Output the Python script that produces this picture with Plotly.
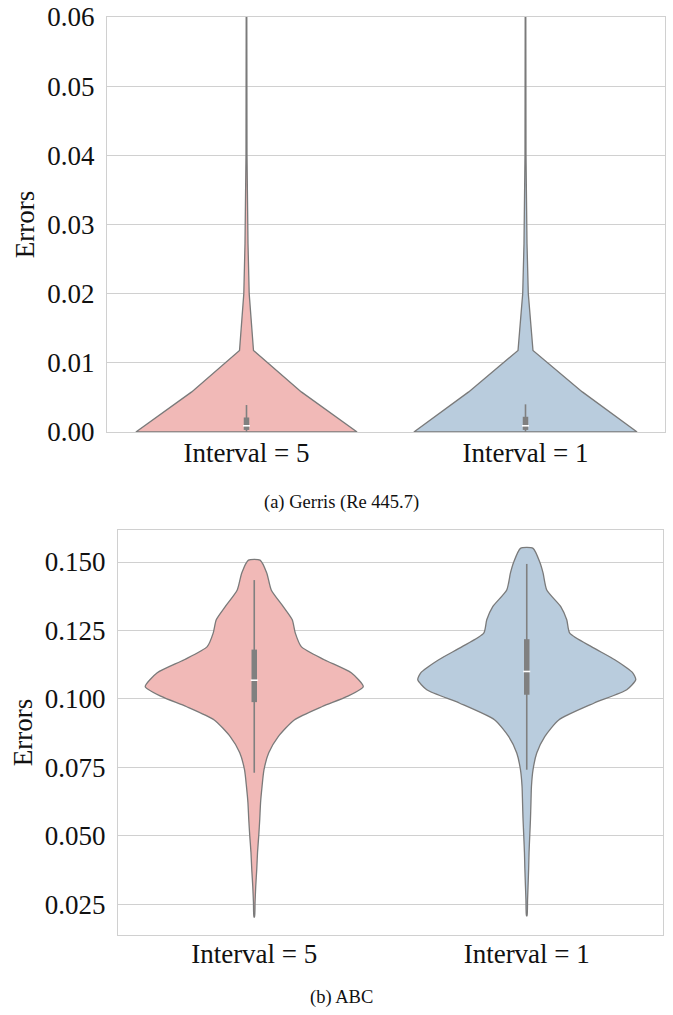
import plotly.graph_objects as go

# ---------------- data ----------------
categories = ["Interval = 5", "Interval = 1"]

# (a) Gerris: violin outline (value levels and relative density) per category
gerris_levels_5 = [0.0, 0.0058, 0.0118, 0.0150, 0.0177, 0.0200, 0.0273, 0.0320, 0.0400, 0.0600]
gerris_density_5 = [111, 55, 7.0, 5.5, 4.0, 2.7, 1.5, 1.0, 0.5, 0.3]
gerris_levels_1 = [0.0, 0.0058, 0.0118, 0.0150, 0.0177, 0.0200, 0.0273, 0.0320, 0.0400, 0.0600]
gerris_density_1 = [112, 57, 7.5, 5.8, 4.2, 2.8, 1.5, 1.0, 0.5, 0.3]
# box stats: whisker low, q1, median, q3, whisker high
gerris_box_5 = [0.0, 0.0003, 0.0009, 0.0021, 0.0039]
gerris_box_1 = [0.0, 0.0003, 0.0009, 0.0022, 0.0040]

# (b) ABC
abc_levels_5 = [0.0203, 0.0256, 0.0316, 0.0377, 0.0440, 0.0500, 0.0560, 0.0620, 0.0680,
                0.0740, 0.0803, 0.0862, 0.0923, 0.0972, 0.1009, 0.1045, 0.1095, 0.1143,
                0.1191, 0.1241, 0.1289, 0.1337, 0.1398, 0.1460, 0.1507]
abc_density_5 = [0.3, 0.8, 1.5, 2.5, 3.3, 4.5, 5.5, 6.3, 7.8,
                 9.7, 14.5, 24, 40, 68, 93, 109, 97, 70,
                 47, 41, 38, 29, 17, 12.5, 5.8]
abc_levels_1 = [0.0207, 0.0265, 0.0316, 0.0380, 0.0438, 0.0500, 0.0559, 0.0620, 0.0680,
                0.0741, 0.0802, 0.0862, 0.0923, 0.0984, 0.1033, 0.1070, 0.1095, 0.1143,
                0.1190, 0.1240, 0.1289, 0.1337, 0.1398, 0.1460, 0.1500, 0.1550]
abc_density_1 = [0.3, 0.8, 1.3, 1.9, 2.3, 3.0, 3.7, 4.2, 4.7,
                 6.3, 10, 18, 32, 67, 100, 109, 106, 88,
                 65, 43, 40, 34, 20, 16.3, 13, 6.3]
abc_box_5 = [0.0730, 0.0988, 0.1068, 0.1180, 0.1434]
abc_box_1 = [0.0741, 0.1015, 0.1100, 0.1218, 0.1493]

captions = ["(a) Gerris (Re 445.7)", "(b) ABC"]
colors = ["#f1b9b7", "#b9ccdd"]

# ---------------- figure ----------------
W, H = 673, 1015
fig = go.Figure()

LINE = "#7a7a7a"
BOXC = "#808080"


def add_violin(pos, levels, dens, box, color, xa, ya, smooth, dmax):
    hw = [0.4 * d / dmax for d in dens]
    xs = [pos + w for w in hw] + [pos - w for w in hw[::-1]] + [pos + hw[0]]
    ys = list(levels) + list(levels[::-1]) + [levels[0]]
    fig.add_trace(go.Scatter(
        x=xs, y=ys, mode="lines", fill="toself", fillcolor=color,
        line=dict(color=LINE, width=1.3, shape="spline" if smooth else "linear",
                  smoothing=0.6 if smooth else 0),
        xaxis=xa, yaxis=ya, hoverinfo="skip", showlegend=False))
    lo, q1, med, q3, hi = box
    fig.add_trace(go.Scatter(x=[pos, pos], y=[lo, hi], mode="lines",
                             line=dict(color=BOXC, width=1.6),
                             xaxis=xa, yaxis=ya, hoverinfo="skip", showlegend=False))
    fig.add_trace(go.Scatter(x=[pos, pos], y=[q1, q3], mode="lines",
                             line=dict(color=BOXC, width=5.5),
                             xaxis=xa, yaxis=ya, hoverinfo="skip", showlegend=False))
    fig.add_trace(go.Scatter(x=[pos], y=[med], mode="markers",
                             marker=dict(symbol="line-ew", size=5,
                                         line=dict(color="white", width=1.6)),
                             xaxis=xa, yaxis=ya, hoverinfo="skip", showlegend=False))


dmax_top = max(max(gerris_density_5), max(gerris_density_1))
dmax_bot = max(max(abc_density_5), max(abc_density_1))
add_violin(0, gerris_levels_5, gerris_density_5, gerris_box_5, colors[0], "x", "y", False, dmax_top)
add_violin(1, gerris_levels_1, gerris_density_1, gerris_box_1, colors[1], "x", "y", False, dmax_top)
add_violin(0, abc_levels_5, abc_density_5, abc_box_5, colors[0], "x2", "y2", True, dmax_bot)
add_violin(1, abc_levels_1, abc_density_1, abc_box_1, colors[1], "x2", "y2", True, dmax_bot)

FONT = "Liberation Serif, Times New Roman, serif"
GRID = "#d0d0d0"
TICKF = dict(family=FONT, size=27, color="#111111")

common_x = dict(range=[-0.5, 1.5], tickmode="array", tickvals=[0, 1], ticktext=categories,
                showgrid=False, zeroline=False, showline=True, mirror=True, automargin=False,
                linecolor=GRID, linewidth=1.2, tickfont=TICKF, ticks="", fixedrange=True)
common_y = dict(showgrid=True, gridcolor=GRID, gridwidth=1.2, zeroline=False, showline=True,
                mirror=True, linecolor=GRID, linewidth=1.2, tickfont=TICKF, ticks="",
                ticklabelstandoff=6, automargin=False,
                title=dict(text="Errors", font=dict(family=FONT, size=27, color="#111111"),
                           standoff=4))

fig.update_layout(
    width=W, height=H, margin=dict(l=0, r=0, t=0, b=0, autoexpand=False),
    paper_bgcolor="white", plot_bgcolor="white", showlegend=False,
    xaxis=dict(common_x, domain=[107 / W, 665 / W], anchor="y", ticklabelstandoff=-4),
    yaxis=dict(common_y, domain=[1 - 432 / H, 1 - 17 / H], anchor="x",
               range=[0, 0.06], tick0=0, dtick=0.01, tickformat=".2f"),
    xaxis2=dict(common_x, domain=[118 / W, 663 / W], anchor="y2", ticklabelstandoff=-6),
    yaxis2=dict(common_y, domain=[1 - 935 / H, 1 - 530 / H], anchor="x2",
                range=[0.0137, 0.1617], tick0=0.025, dtick=0.025, tickformat=".3f"),
    annotations=[
        dict(text=captions[0], x=341 / W, y=1 - 502 / H, xref="paper", yref="paper",
             showarrow=False, font=dict(family=FONT, size=18.5, color="#111111"),
             xanchor="center", yanchor="middle"),
        dict(text=captions[1], x=341 / W, y=1 - 997 / H, xref="paper", yref="paper",
             showarrow=False, font=dict(family=FONT, size=18.5, color="#111111"),
             xanchor="center", yanchor="middle"),
    ],
)

fig.write_html("out.html")
